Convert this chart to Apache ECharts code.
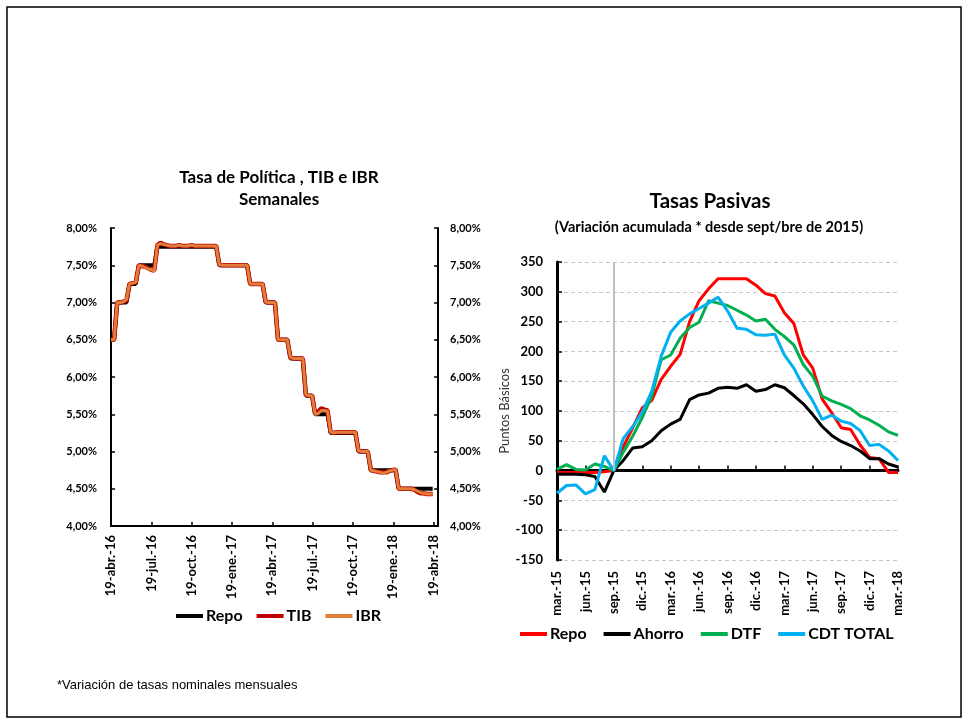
<!DOCTYPE html>
<html>
<head>
<meta charset="utf-8">
<script src="https://cdn.jsdelivr.net/npm/echarts@6/dist/echarts.min.js"></script>
<style>
  html, body { margin: 0; padding: 0; background: #fff; }
  #c { width: 969px; height: 723px; }
</style>
</head>
<body>
<div id="c"></div>
<script>
// ---- Tasa de Política, TIB e IBR (semanal, desde 19-abr-2016) ----
const etiquetasSemanales = ['19-abr.-16', '19-jul.-16', '19-oct.-16', '19-ene.-17', '19-abr.-17',
  '19-jul.-17', '19-oct.-17', '19-ene.-18', '19-abr.-18'];

const repoSemanal = [
  6.50, 6.50, 7.00, 7.00, 7.00, 7.00, 7.25, 7.25, 7.25, 7.50,
  7.50, 7.50, 7.50, 7.50, 7.50, 7.75, 7.75, 7.75, 7.75, 7.75,
  7.75, 7.75, 7.75, 7.75, 7.75, 7.75, 7.75, 7.75, 7.75, 7.75,
  7.75, 7.75, 7.75, 7.75, 7.75, 7.50, 7.50, 7.50, 7.50, 7.50,
  7.50, 7.50, 7.50, 7.50, 7.50, 7.25, 7.25, 7.25, 7.25, 7.25,
  7.00, 7.00, 7.00, 7.00, 6.50, 6.50, 6.50, 6.50, 6.25, 6.25,
  6.25, 6.25, 6.25, 5.75, 5.75, 5.75, 5.50, 5.50, 5.50, 5.50,
  5.50, 5.25, 5.25, 5.25, 5.25, 5.25, 5.25, 5.25, 5.25, 5.25,
  5.00, 5.00, 5.00, 5.00, 4.75, 4.75, 4.75, 4.75, 4.75, 4.75,
  4.75, 4.75, 4.75, 4.50, 4.50, 4.50, 4.50, 4.50, 4.50, 4.50,
  4.50, 4.50, 4.50, 4.50, 4.50
];

const tibSemanal = [
  6.50, 6.50, 7.00, 7.00, 7.01, 7.03, 7.25, 7.26, 7.27, 7.50,
  7.49, 7.48, 7.46, 7.44, 7.43, 7.77, 7.80, 7.78, 7.77, 7.76,
  7.76, 7.76, 7.77, 7.76, 7.76, 7.76, 7.77, 7.76, 7.76, 7.76,
  7.76, 7.76, 7.76, 7.76, 7.76, 7.51, 7.50, 7.50, 7.50, 7.50,
  7.50, 7.50, 7.50, 7.50, 7.50, 7.25, 7.25, 7.25, 7.25, 7.25,
  7.01, 7.00, 7.00, 7.00, 6.50, 6.50, 6.50, 6.50, 6.26, 6.25,
  6.25, 6.25, 6.25, 5.76, 5.75, 5.75, 5.50, 5.53, 5.58, 5.56,
  5.55, 5.26, 5.25, 5.26, 5.26, 5.26, 5.26, 5.26, 5.26, 5.26,
  5.01, 5.00, 5.00, 5.00, 4.75, 4.74, 4.73, 4.72, 4.72, 4.72,
  4.74, 4.75, 4.76, 4.50, 4.50, 4.50, 4.50, 4.50, 4.49, 4.46,
  4.44, 4.44, 4.43, 4.43, 4.43
];

const ibrSemanal = [
  6.50, 6.50, 7.00, 7.00, 7.01, 7.04, 7.25, 7.26, 7.27, 7.50,
  7.49, 7.47, 7.45, 7.44, 7.42, 7.77, 7.79, 7.78, 7.77, 7.76,
  7.76, 7.76, 7.77, 7.76, 7.76, 7.76, 7.77, 7.76, 7.76, 7.76,
  7.76, 7.76, 7.76, 7.76, 7.76, 7.51, 7.50, 7.50, 7.50, 7.50,
  7.50, 7.50, 7.50, 7.50, 7.50, 7.25, 7.25, 7.25, 7.25, 7.25,
  7.01, 7.00, 7.00, 7.00, 6.50, 6.50, 6.50, 6.50, 6.26, 6.25,
  6.25, 6.25, 6.25, 5.76, 5.75, 5.75, 5.50, 5.51, 5.55, 5.55,
  5.54, 5.26, 5.25, 5.26, 5.26, 5.26, 5.26, 5.26, 5.26, 5.26,
  5.01, 5.00, 5.00, 5.00, 4.75, 4.74, 4.73, 4.72, 4.71, 4.72,
  4.74, 4.75, 4.76, 4.50, 4.50, 4.50, 4.50, 4.50, 4.49, 4.47,
  4.45, 4.44, 4.43, 4.43, 4.43
];

// ---- Tasas Pasivas: variación acumulada (pb) desde sept/bre de 2015 ----
const meses = ['mar.-15', 'abr.-15', 'may.-15', 'jun.-15', 'jul.-15', 'ago.-15', 'sep.-15', 'oct.-15',
  'nov.-15', 'dic.-15', 'ene.-16', 'feb.-16', 'mar.-16', 'abr.-16', 'may.-16', 'jun.-16', 'jul.-16',
  'ago.-16', 'sep.-16', 'oct.-16', 'nov.-16', 'dic.-16', 'ene.-17', 'feb.-17', 'mar.-17', 'abr.-17',
  'may.-17', 'jun.-17', 'jul.-17', 'ago.-17', 'sep.-17', 'oct.-17', 'nov.-17', 'dic.-17', 'ene.-18',
  'feb.-18', 'mar.-18'];

const repoVar = [-3, -3, -3, -3, -3, -2, 0,
  40, 72, 105, 118, 153, 175, 195, 250, 285, 305,
  322, 322, 322, 322, 311, 297, 293, 265, 247, 194,
  172, 120, 97, 72, 69, 43, 22, 20, -3, -3];

const ahorroVar = [-6, -6, -6, -7, -10, -36, 0,
  17, 38, 40, 50, 67, 78, 86, 119, 127, 130,
  138, 140, 138, 144, 133, 136, 144, 139, 126, 112,
  94, 74, 59, 49, 42, 33, 20, 20, 11, 6];

const dtfVar = [2, 10, 2, 1, 11, 7, 0,
  31, 58, 89, 125, 186, 194, 222, 240, 249, 285,
  281, 277, 269, 261, 251, 254, 237, 225, 211, 178,
  158, 125, 117, 111, 104, 92, 85, 76, 65, 59];

const cdtVar = [-38, -25, -24, -39, -32, 25, 0,
  54, 74, 98, 133, 192, 232, 251, 263, 272, 281,
  291, 268, 239, 237, 228, 227, 229, 194, 172, 142,
  117, 86, 93, 83, 79, 67, 42, 44, 33, 17];

const FONT = 'Lato, "Open Sans", sans-serif';

// weekly observations: day offset from 19-abr-2016
const diaDe = (k) => 7 * k;
const aPuntos = (serie) => serie.map((v, k) => [diaDe(k), v]);

const TRIMESTRE = 91.25; // days between quarterly labels (730 / 8)
const etiquetaTrimestre = (v) => {
  const i = v / TRIMESTRE;
  const r = Math.round(i);
  return Math.abs(i - r) < 1e-6 && etiquetasSemanales[r] ? etiquetasSemanales[r] : '';
};
const pct = (v) => v.toFixed(2).replace('.', ',') + '%';

const chart = echarts.init(document.getElementById('c'), null, { renderer: 'canvas' });

const ejeBase = {
  axisLine: { show: true, lineStyle: { color: '#000', width: 2 } },
  axisTick: { show: true, inside: true, length: 4, lineStyle: { color: '#000', width: 1.5 } },
  splitLine: { show: false }
};

const textoLeyenda = { color: '#000', fontFamily: FONT, fontWeight: 'bold', fontSize: 16, padding: [0, 0, 0, -2] };

chart.setOption({
  animation: false,
  backgroundColor: '#fff',
  grid: [
    { left: 111, top: 228, width: 327, height: 298 },
    { left: 557, top: 262, width: 341, height: 298 }
  ],
  xAxis: [
    Object.assign({}, ejeBase, {
      type: 'value', gridIndex: 0, min: 0, max: 740, interval: TRIMESTRE,
      axisLabel: {
        rotate: 90, margin: 9, color: '#000', fontFamily: FONT, fontWeight: 'bold', fontSize: 13,
        formatter: etiquetaTrimestre
      }
    }),
    {
      type: 'category', gridIndex: 1, data: meses, boundaryGap: false, position: 'bottom',
      axisLine: { show: false, onZero: false },
      axisTick: { show: false },
      axisLabel: {
        interval: 2, rotate: 90, margin: 11, color: '#000', fontFamily: FONT, fontWeight: 'bold', fontSize: 13
      },
      splitLine: { show: false }
    },
    {
      type: 'category', gridIndex: 1, data: meses, boundaryGap: false, position: 'bottom',
      axisLine: { show: true, onZero: true, lineStyle: { color: '#000', width: 3 } },
      axisTick: { show: true, inside: true, interval: 2, length: 5, lineStyle: { color: '#000', width: 1.5 } },
      axisLabel: { show: false },
      splitLine: { show: false }
    }
  ],
  yAxis: [
    Object.assign({}, ejeBase, {
      type: 'value', gridIndex: 0, position: 'left', min: 4, max: 8, interval: 0.5,
      axisLabel: { margin: 14, color: '#000', fontFamily: FONT, fontWeight: 'bold', fontSize: 11, formatter: pct }
    }),
    Object.assign({}, ejeBase, {
      type: 'value', gridIndex: 0, position: 'right', min: 4, max: 8, interval: 0.5,
      axisLabel: { margin: 12, color: '#000', fontFamily: FONT, fontWeight: 'bold', fontSize: 11, formatter: pct }
    }),
    {
      type: 'value', gridIndex: 1, min: -150, max: 350, interval: 50,
      name: 'Puntos Básicos', nameLocation: 'middle', nameGap: 39, nameRotate: 90,
      nameTextStyle: { color: '#333', fontFamily: FONT, fontSize: 13 },
      axisLine: { show: true, lineStyle: { color: '#000', width: 3 } },
      axisTick: { show: true, inside: true, length: 5, lineStyle: { color: '#000', width: 1.5 } },
      axisLabel: { margin: 14, color: '#000', fontFamily: FONT, fontWeight: 'bold', fontSize: 13 },
      splitLine: { show: true, lineStyle: { color: '#c8c8c8', type: [4, 3], width: 1 } }
    }
  ],
  legend: [
    {
      data: ['Repo', 'TIB', 'IBR'], left: 176, top: 608, padding: 0, icon: 'rect',
      itemWidth: 27, itemHeight: 4, itemGap: 14, selectedMode: false,
      textStyle: textoLeyenda
    },
    {
      data: ['Repo\u200b', 'Ahorro', 'DTF', 'CDT TOTAL'], left: 520, top: 626, padding: 0, icon: 'rect',
      itemWidth: 27, itemHeight: 4, itemGap: 17, selectedMode: false,
      textStyle: textoLeyenda
    }
  ],
  series: [
    { name: 'Repo', type: 'line', xAxisIndex: 0, yAxisIndex: 0, data: aPuntos(repoSemanal),
      symbol: 'none', color: '#000', lineStyle: { color: '#000', width: 4 } },
    { name: 'TIB', type: 'line', xAxisIndex: 0, yAxisIndex: 0, data: aPuntos(tibSemanal),
      symbol: 'none', color: '#c00000', lineStyle: { color: '#c00000', width: 4.5 } },
    { name: 'IBR', type: 'line', xAxisIndex: 0, yAxisIndex: 0, data: aPuntos(ibrSemanal),
      symbol: 'none', color: '#e07f3a', lineStyle: { color: '#e07f3a', width: 3 } },

    { name: 'Repo\u200b', type: 'line', xAxisIndex: 1, yAxisIndex: 2, data: repoVar,
      symbol: 'none', color: '#ff0000', lineStyle: { color: '#ff0000', width: 3 }, z: 3,
      markLine: {
        silent: true, symbol: 'none', label: { show: false },
        lineStyle: { color: '#bfbfbf', width: 2, type: 'solid' },
        data: [[{ coord: ['sep.-15', 350] }, { coord: ['sep.-15', 0] }]]
      } },
    { name: 'Ahorro', type: 'line', xAxisIndex: 1, yAxisIndex: 2, data: ahorroVar,
      symbol: 'none', color: '#000', lineStyle: { color: '#000', width: 3 }, z: 3 },
    { name: 'DTF', type: 'line', xAxisIndex: 1, yAxisIndex: 2, data: dtfVar,
      symbol: 'none', color: '#00b050', lineStyle: { color: '#00b050', width: 3 }, z: 3 },
    { name: 'CDT TOTAL', type: 'line', xAxisIndex: 1, yAxisIndex: 2, data: cdtVar,
      symbol: 'none', color: '#00b0f0', lineStyle: { color: '#00b0f0', width: 3 }, z: 3 }
  ],
  graphic: [
    { type: 'rect', shape: { x: 7, y: 7, width: 954, height: 710 },
      style: { fill: 'none', stroke: '#000', lineWidth: 1.5 }, silent: true },
    { type: 'text', x: 279, y: 178,
      style: { text: 'Tasa de Política , TIB e IBR', fill: '#000', fontFamily: FONT, fontWeight: 'bold',
        fontSize: 17, align: 'center', verticalAlign: 'middle' } },
    { type: 'text', x: 279, y: 200,
      style: { text: 'Semanales', fill: '#000', fontFamily: FONT, fontWeight: 'bold',
        fontSize: 17, align: 'center', verticalAlign: 'middle' } },
    { type: 'text', x: 710, y: 201,
      style: { text: 'Tasas Pasivas', fill: '#000', fontFamily: FONT, fontWeight: 'bold',
        fontSize: 20.5, align: 'center', verticalAlign: 'middle' } },
    { type: 'text', x: 709, y: 227,
      style: { text: '(Variación acumulada * desde sept/bre de 2015)', fill: '#000', fontFamily: FONT,
        fontWeight: 'bold', fontSize: 14.5, align: 'center', verticalAlign: 'middle' } },
    { type: 'text', x: 57, y: 685,
      style: { text: '*Variación de tasas nominales mensuales', fill: '#000',
        fontFamily: '"Liberation Sans", Arial, sans-serif', fontSize: 13, align: 'left', verticalAlign: 'middle' } }
  ]
});
</script>
</body>
</html>
